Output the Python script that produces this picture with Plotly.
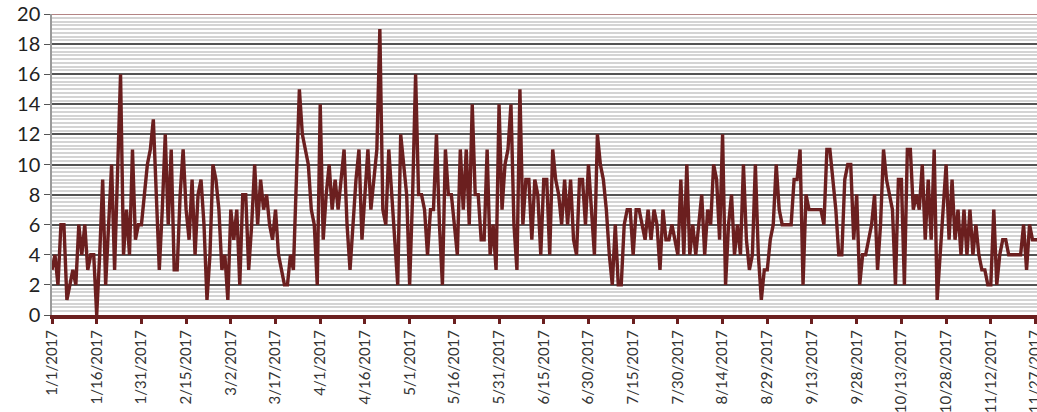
import pandas as pd
import plotly.graph_objects as go

# daily counts from 1/1/2017
counts = [
    3, 4, 2, 6, 6, 1, 2, 3, 2, 6, 4, 6, 3, 4, 4,
    0, 4, 9, 2, 6, 10, 3, 10, 16, 4, 7, 4, 11, 5, 6,
    6, 8, 10, 11, 13, 8, 3, 7, 12, 6, 11, 3, 3, 8, 11,
    7, 5, 9, 4, 8, 9, 6, 1, 4, 10, 9, 7, 3, 4, 1,
    7, 5, 7, 2, 8, 8, 3, 6, 10, 6, 9, 7, 8, 6, 5,
    7, 4, 3, 2, 2, 4, 3, 9, 15, 12, 11, 10, 7, 6, 2,
    14, 5, 8, 10, 7, 9, 7, 9, 11, 6, 3, 6, 9, 11, 5,
    8, 11, 7, 9, 11, 19, 7, 6, 11, 8, 5, 2, 12, 10, 8,
    2, 8, 16, 8, 8, 7, 4, 7, 7, 12, 6, 2, 11, 8, 8,
    6, 4, 11, 7, 11, 6, 14, 8, 8, 5, 5, 11, 4, 6, 3,
    14, 7, 10, 11, 14, 6, 3, 15, 6, 9, 9, 5, 9, 8, 4,
    9, 9, 4, 11, 9, 8, 6, 9, 6, 9, 5, 4, 9, 9, 6,
    10, 7, 4, 12, 10, 9, 7, 4, 2, 6, 2, 2, 6, 7, 7,
    4, 7, 7, 6, 5, 7, 5, 7, 6, 3, 7, 5, 5, 6, 5,
    4, 9, 4, 10, 4, 6, 4, 6, 8, 4, 7, 6, 10, 9, 5,
    12, 2, 6, 8, 4, 6, 4, 10, 5, 3, 4, 10, 4, 1, 3,
    3, 5, 6, 10, 7, 6, 6, 6, 6, 9, 9, 11, 2, 8, 7,
    7, 7, 7, 7, 6, 11, 11, 9, 7, 4, 4, 9, 10, 10, 5,
    8, 2, 4, 4, 5, 6, 8, 3, 6, 11, 9, 8, 7, 2, 9,
    9, 2, 11, 11, 7, 8, 7, 10, 5, 9, 5, 11, 1, 4, 7,
    10, 5, 9, 5, 7, 4, 7, 4, 7, 4, 6, 4, 3, 3, 2,
    2, 7, 2, 4, 5, 5, 4, 4, 4, 4, 4, 6, 3, 6, 5, 5, 5,
]
dates = pd.date_range('2017-01-01', periods=len(counts), freq='D')

line_color = '#6b1f1f'

fig = go.Figure()
fig.add_trace(go.Scatter(
    x=dates, y=counts, mode='lines',
    line=dict(color=line_color, width=3.4),
    showlegend=False,
))

# plot area border at the top
fig.add_shape(type='line', xref='paper', yref='y', x0=0, x1=1, y0=20, y1=20,
              line=dict(color='#9a5b5b', width=1.5))

fig.update_layout(
    width=1037,
    height=412,
    margin=dict(l=52, r=0, t=14, b=97, autoexpand=False),
    paper_bgcolor='white',
    plot_bgcolor='white',
    font=dict(family='Lato, Arial, sans-serif', color='#222222'),
    xaxis=dict(
        type='date',
        range=['2017-01-01', '2017-11-27 12:00'],
        tick0='2017-01-01',
        dtick=15 * 86400000,
        tickformat='%-m/%-d/%Y',
        tickangle=-90,
        tickfont=dict(size=15, color='#333333'),
        ticks='outside',
        ticklen=5,
        tickwidth=3,
        tickcolor=line_color,
        showgrid=False,
        showline=True,
        linecolor=line_color,
        linewidth=4,
        zeroline=False,
        automargin=False,
        ticklabeloverflow='allow',
    ),
    yaxis=dict(
        range=[0, 20],
        dtick=2,
        tickfont=dict(size=20, color='#222222'),
        ticks='outside',
        ticklen=6,
        tickcolor='#555555',
        showgrid=True,
        gridcolor='#555555',
        gridwidth=2,
        minor=dict(dtick=0.25, showgrid=True, gridcolor='#d4d4d4', gridwidth=1.5),
        showline=True,
        linecolor='#9a9a9a',
        linewidth=1.5,
        zeroline=False,
        automargin=False,
        ticklabeloverflow='allow',
    ),
)

# drop the default 8px page margin so the figure fills the window
fig.write_html("out.html", config={'displayModeBar': False},
               post_script="document.body.style.margin = '0';")
